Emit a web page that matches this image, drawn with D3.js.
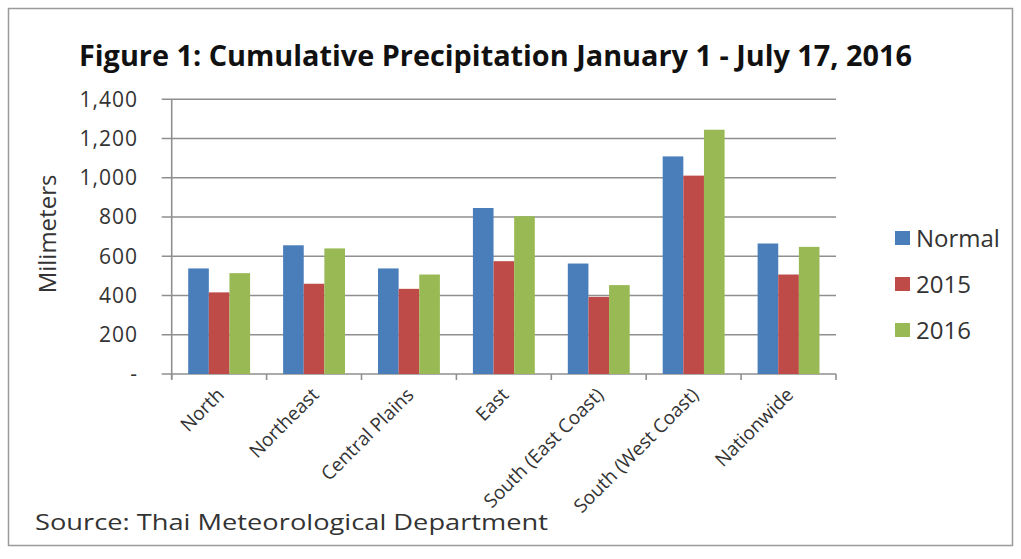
<!DOCTYPE html>
<html><head><meta charset="utf-8">
<script src="https://cdn.jsdelivr.net/npm/d3@7"></script>
<style>body{margin:0;background:#fff}svg{display:block}text{font-family:"Open Sans","Liberation Sans",sans-serif}</style>
</head><body>
<script>
const categories = ["North","Northeast","Central Plains","East","South (East Coast)","South (West Coast)","Nationwide"];
const seriesNames = ["Normal","2015","2016"];
const normal = [538, 656, 538, 846, 563, 1109, 665];
const y2015 = [416, 460, 434, 575, 393, 1011, 507];
const y2016 = [514, 640, 507, 804, 453, 1245, 648];
const yTicks = [0,200,400,600,800,1000,1200,1400];
const colors = ["#4a7ebb","#be4b48","#98b954"];

const W = 1021, H = 559;
const svg = d3.select("body").append("svg").attr("width",W).attr("height",H);
svg.append("rect").attr("width",W).attr("height",H).attr("fill","#fff");
svg.append("rect").attr("x",8.5).attr("y",8.5).attr("width",1004).attr("height",537)
  .attr("fill","none").attr("stroke","#9a9a9a").attr("stroke-width",1.5);

const pLeft = 171.7, pRight = 836, pTop = 99.3, pBottom = 374;
const x0 = d3.scaleBand().domain(categories).range([pLeft,pRight]).padding(0);
const x1 = d3.scaleBand().domain(seriesNames).range([0,x0.bandwidth()]).paddingInner(0).paddingOuter(0.8);
const y = d3.scaleLinear().domain([0,1400]).range([pBottom,pTop]);

// gridlines
svg.append("g").selectAll("line").data(yTicks).join("line")
  .attr("x1",pLeft-10).attr("x2",pRight).attr("y1",d=>y(d)).attr("y2",d=>y(d))
  .attr("stroke","#8f8f8f").attr("stroke-width",1.6);

const rows = categories.map((c,i)=>({cat:c, vals:[normal[i],y2015[i],y2016[i]]}));
const g = svg.append("g").selectAll("g").data(rows).join("g")
  .attr("transform",d=>`translate(${x0(d.cat)},0)`);
g.selectAll("rect").data(d=>d.vals.map((v,j)=>({s:seriesNames[j],v,j}))).join("rect")
  .attr("x",d=>x1(d.s)).attr("width",x1.bandwidth())
  .attr("y",d=>y(d.v)).attr("height",d=>y(0)-y(d.v)).attr("fill",d=>colors[d.j]);

// y axis line
svg.append("line").attr("x1",pLeft).attr("x2",pLeft).attr("y1",pTop).attr("y2",pBottom+5)
  .attr("stroke","#8f8f8f").attr("stroke-width",1.6);
// x axis ticks
const bounds = categories.map(c=>x0(c)).concat([pRight]);
svg.append("g").selectAll("line").data(bounds).join("line")
  .attr("x1",d=>d).attr("x2",d=>d).attr("y1",pBottom).attr("y2",pBottom+6)
  .attr("stroke","#8f8f8f").attr("stroke-width",1.6);

// y tick labels
svg.append("g").selectAll("text").data(yTicks).join("text")
  .attr("x",138).attr("y",d=>y(d)).attr("dy","0.35em").attr("text-anchor","end")
  .attr("font-size",21).attr("letter-spacing",1).attr("fill","#333")
  .text(d=> d===0 ? "-" : d3.format(",")(d));

// x labels
svg.append("g").selectAll("text").data(categories).join("text")
  .attr("transform",d=>`translate(${x0(d)+x0.bandwidth()/2+6},${pBottom+22}) rotate(-45)`)
  .attr("text-anchor","end").attr("font-size",19).attr("fill","#333").text(d=>d);

// y title
svg.append("text").attr("transform","translate(56,234) rotate(-90)")
  .attr("text-anchor","middle").attr("font-size",24).attr("fill","#333").text("Milimeters");

// title
svg.append("text").attr("x",79).attr("y",66).attr("font-size",28).attr("font-weight","bold")
  .attr("fill","#111").attr("textLength",833).attr("lengthAdjust","spacingAndGlyphs")
  .text("Figure 1: Cumulative Precipitation January 1 - July 17, 2016");

// legend
const leg = svg.append("g").selectAll("g").data(seriesNames).join("g")
  .attr("transform",(d,i)=>`translate(895,${238+i*46})`);
leg.append("rect").attr("x",0).attr("y",-7).attr("width",15).attr("height",14).attr("fill",(d,i)=>colors[i]);
leg.append("text").attr("x",21).attr("dy","0.36em").attr("font-size",24).attr("fill","#333").text(d=>d);

// source
svg.append("text").attr("x",35).attr("y",530).attr("font-size",21).attr("fill","#333")
  .attr("textLength",513).attr("lengthAdjust","spacingAndGlyphs")
  .text("Source: Thai Meteorological Department");
</script>
</body></html>
